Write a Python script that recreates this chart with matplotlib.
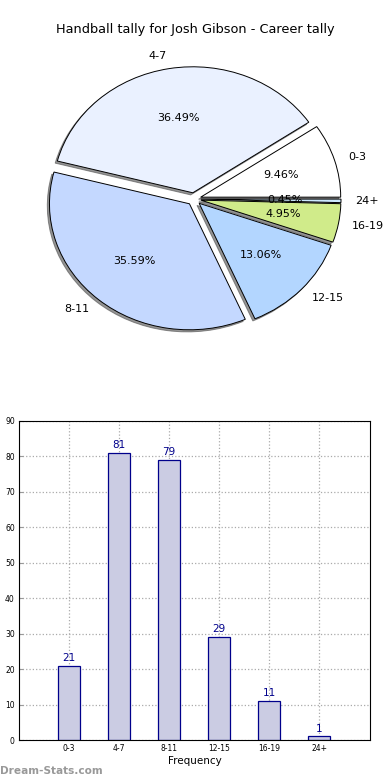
import matplotlib
matplotlib.use("Agg")
import matplotlib.pyplot as plt

categories = ["0-3", "4-7", "8-11", "12-15", "16-19", "24+"]
counts = [21, 81, 79, 29, 11, 1]
pie_colors = ["#ffffff", "#eaf1ff", "#c4d8ff", "#b3d6ff", "#d0eb8a", "#cde9ff"]
title = "Handball tally for Josh Gibson - Career tally"

fig = plt.figure(figsize=(3.9, 7.8), dpi=100)

# pie chart (elliptical, like old matplotlib without equal aspect)
W, H = 390.0, 780.0
cx, cy = 194.0, 199.0
rx, ry = 140.0, 126.0
lim = 1.3
ax1 = fig.add_axes([(cx - lim * rx) / W, (H - cy - lim * ry) / H,
                    2 * lim * rx / W, 2 * lim * ry / H])
ax1.pie(counts, labels=categories, colors=pie_colors, explode=[0.05] * len(counts),
        autopct="%1.2f%%",
        shadow=dict(ox=-0.011, oy=-0.012, facecolor="0.3", edgecolor="0.3", alpha=0.6),
        startangle=0,
        wedgeprops=dict(edgecolor="black", linewidth=0.7),
        textprops=dict(fontsize=8))
ax1.set_aspect("auto")
ax1.set_xlim(-lim, lim)
ax1.set_ylim(-lim, lim)
ax1.axis("off")
fig.text(0.5, 1 - 30 / H, title, ha="center", va="center", fontsize=9.3)

# bar chart
ax2 = fig.add_axes([19 / W, 40 / H, 351 / W, 319 / H])
pos = list(range(len(categories)))
ax2.bar(pos, counts, width=0.45, color="#cbcce3", edgecolor="#00008b", linewidth=0.9, zorder=2)
for p, c in zip(pos, counts):
    ax2.text(p, c + 0.8, str(c), ha="center", va="bottom", fontsize=7.5, color="#00008b", zorder=3)
ax2.set_xlim(-1, 6.02)
ax2.set_ylim(0, 90)
ax2.set_yticks(range(0, 91, 10))
ax2.set_xticks(pos)
ax2.set_xticklabels(categories)
ax2.tick_params(labelsize=5.5, direction="in", length=3, color="#999999", pad=3)
ax2.grid(True, linestyle=":", color="#aaaaaa", linewidth=0.9, zorder=0)
ax2.set_axisbelow(True)
ax2.set_xlabel("Frequency", fontsize=7.5, labelpad=2)

fig.text(0.0, 1 - 771 / H, "Dream-Stats.com", ha="left", va="center",
         fontsize=7.6, fontweight="bold", color="#999999")

fig.savefig("out.png", dpi=100)
